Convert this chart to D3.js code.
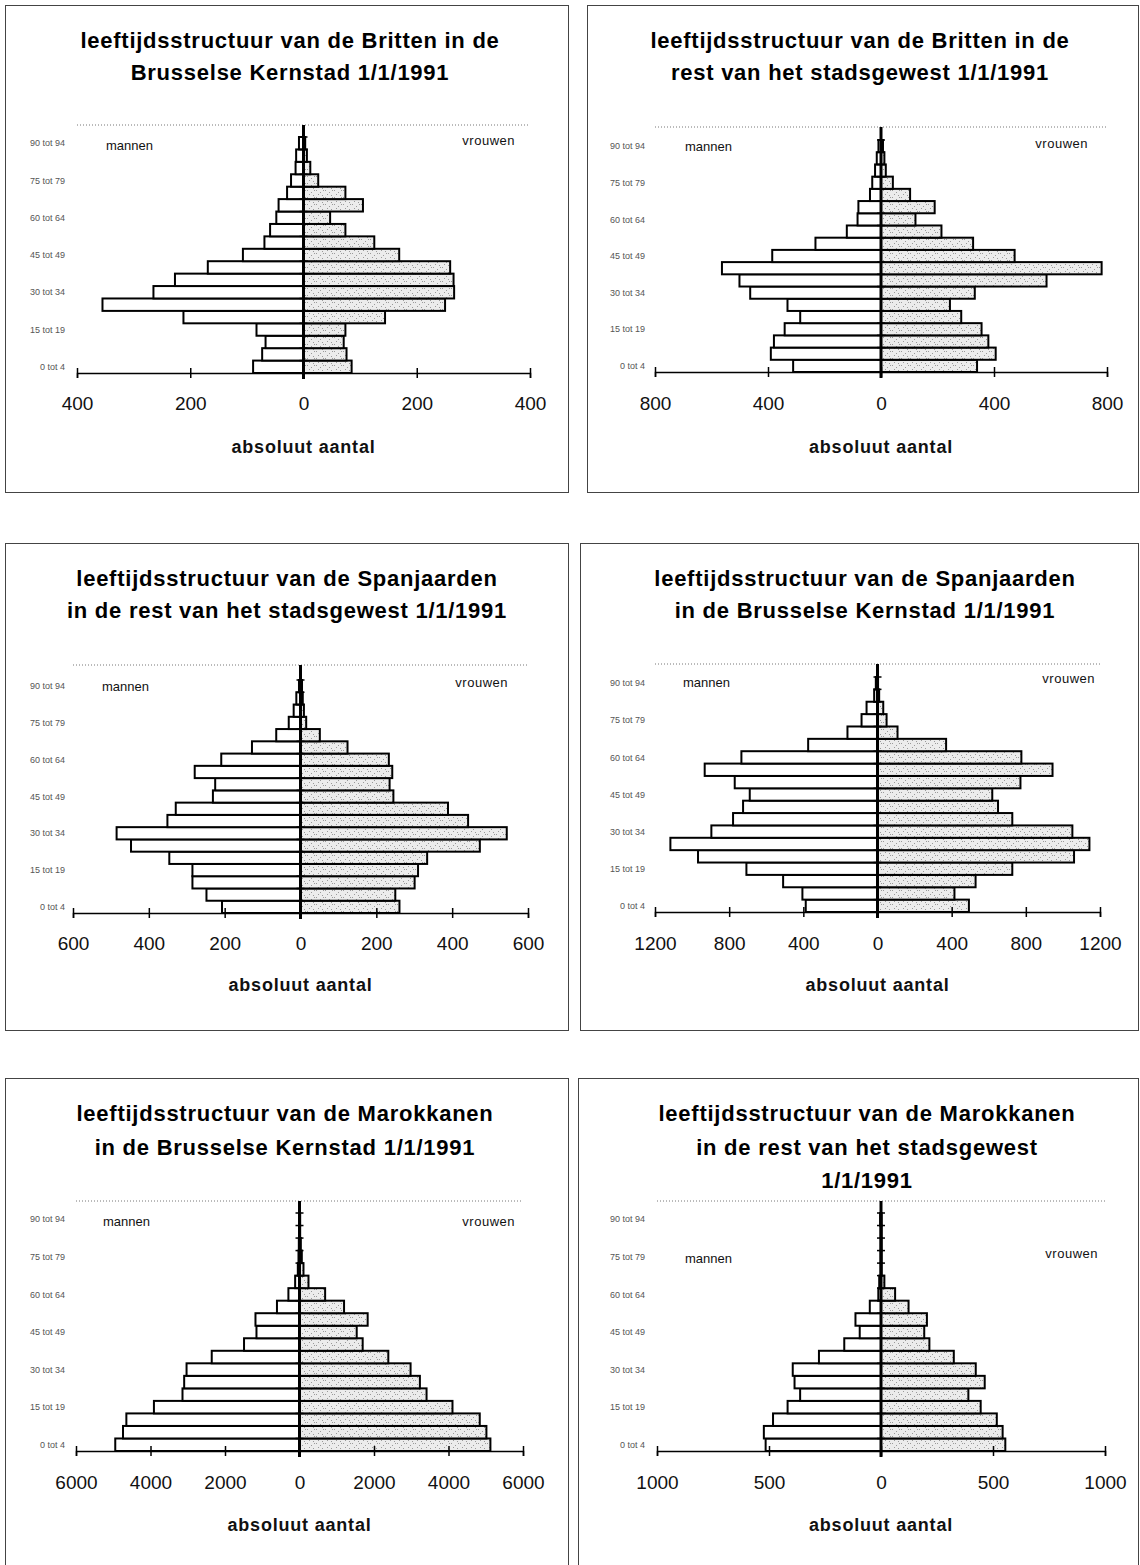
<!DOCTYPE html>
<html><head><meta charset="utf-8">
<script src="https://cdn.jsdelivr.net/npm/d3@7"></script>
<style>body{margin:0;background:#fff}svg{display:block}</style>
</head><body>
<script>
// ---------- DATA ----------
const ageGroups = ["0 tot 4","5 tot 9","10 tot 14","15 tot 19","20 tot 24","25 tot 29","30 tot 34","35 tot 39","40 tot 44","45 tot 49","50 tot 54","55 tot 59","60 tot 64","65 tot 69","70 tot 74","75 tot 79","80 tot 84","85 tot 89","90 tot 94"];
const shownAgeLabels = ["0 tot 4","15 tot 19","30 tot 34","45 tot 49","60 tot 64","75 tot 79","90 tot 94"];

const brittenKernMannen   = [89,73,67,83,212,355,265,227,169,107,69,59,48,44,29,22,14,13,8];
const brittenKernVrouwen  = [85,76,71,74,144,250,266,265,259,169,125,74,47,105,74,26,12,6,3];
const brittenRestMannen   = [311,390,379,341,286,331,463,501,563,385,232,121,83,80,39,31,21,15,9];
const brittenRestVrouwen  = [340,406,380,356,284,244,332,586,781,473,326,214,122,190,103,42,17,12,7];
const spanjRestMannen     = [207,248,285,285,346,447,485,351,329,231,225,279,209,128,64,31,18,11,4];
const spanjRestVrouwen    = [261,250,301,310,334,473,544,442,389,245,235,242,233,124,51,15,9,6,4];
const spanjKernMannen     = [387,405,509,707,968,1117,896,779,725,689,770,932,734,374,162,86,59,18,9];
const spanjKernVrouwen    = [493,415,529,727,1060,1143,1051,727,650,619,771,944,776,370,108,49,31,9,3];
const marokKernMannen     = [4946,4738,4648,3908,3141,3096,3032,2356,1489,1155,1182,605,298,117,45,27,18,9,9];
const marokKernVrouwen    = [5125,5018,4839,4107,3411,3232,2982,2384,1696,1536,1830,1196,688,241,107,62,36,18,18];
const marokRestMannen     = [515,523,482,417,361,386,394,277,164,95,114,50,12,8,2,2,2,2,4];
const marokRestVrouwen    = [555,543,517,445,390,463,423,325,216,193,205,123,63,15,3,3,3,3,3];

const ticksBrittenKern = [-400,-200,0,200,400];
const ticksBrittenRest = [-800,-400,0,400,800];
const ticksSpanjRest   = [-600,-400,-200,0,200,400,600];
const ticksSpanjKern   = [-1200,-800,-400,0,400,800,1200];
const ticksMarokKern   = [-6000,-4000,-2000,0,2000,4000,6000];
const ticksMarokRest   = [-1000,-500,0,500,1000];

const titleBrittenKern = ["leeftijdsstructuur van de Britten in de","Brusselse Kernstad  1/1/1991"];
const titleBrittenRest = ["leeftijdsstructuur van de Britten in de","rest van het stadsgewest  1/1/1991"];
const titleSpanjRest   = ["leeftijdsstructuur van de Spanjaarden","in de rest van het stadsgewest  1/1/1991"];
const titleSpanjKern   = ["leeftijdsstructuur van de Spanjaarden","in de Brusselse Kernstad  1/1/1991"];
const titleMarokKern   = ["leeftijdsstructuur van de Marokkanen","in de Brusselse Kernstad  1/1/1991"];
const titleMarokRest   = ["leeftijdsstructuur van de Marokkanen","in de rest van het stadsgewest","1/1/1991"];

const axisTitle = "absoluut aantal";
const menLabel = "mannen", womenLabel = "vrouwen";

// ---------- LAYOUT ----------
const panels = [
  {title:titleBrittenKern, men:brittenKernMannen, women:brittenKernVrouwen, ticks:ticksBrittenKern,
   L:{fx:5,fy:5,fw:563,fh:487, tcx:290, ty:[40,72], xL:77,xR:530, top:125, barsTop:137, axisY:373, tickY:403, absY:447, ylabX:65, mx:106,my:145, vx:515,vy:140}},
  {title:titleBrittenRest, men:brittenRestMannen, women:brittenRestVrouwen, ticks:ticksBrittenRest,
   L:{fx:587,fy:5,fw:551,fh:487, tcx:860, ty:[40,72], xL:655,xR:1107, top:127, barsTop:140, axisY:372, tickY:403, absY:447, ylabX:645, mx:685,my:146, vx:1088,vy:143}},
  {title:titleSpanjRest, men:spanjRestMannen, women:spanjRestVrouwen, ticks:ticksSpanjRest,
   L:{fx:5,fy:543,fw:563,fh:487, tcx:287, ty:[578,610], xL:73,xR:528, top:665, barsTop:680, axisY:913, tickY:943, absY:985, ylabX:65, mx:102,my:686, vx:508,vy:682}},
  {title:titleSpanjKern, men:spanjKernMannen, women:spanjKernVrouwen, ticks:ticksSpanjKern,
   L:{fx:580,fy:543,fw:558,fh:487, tcx:865, ty:[578,610], xL:655,xR:1100, top:664, barsTop:677, axisY:912, tickY:943, absY:985, ylabX:645, mx:683,my:682, vx:1095,vy:678}},
  {title:titleMarokKern, men:marokKernMannen, women:marokKernVrouwen, ticks:ticksMarokKern,
   L:{fx:5,fy:1078,fw:563,fh:487, tcx:285, ty:[1113,1147], xL:76,xR:523, top:1201, barsTop:1213, axisY:1451, tickY:1482, absY:1525, ylabX:65, mx:103,my:1221, vx:515,vy:1221}},
  {title:titleMarokRest, men:marokRestMannen, women:marokRestVrouwen, ticks:ticksMarokRest,
   L:{fx:578,fy:1078,fw:560,fh:487, tcx:867, ty:[1113,1147,1180], xL:657,xR:1105, top:1201, barsTop:1213, axisY:1451, tickY:1482, absY:1525, ylabX:645, mx:685,my:1258, vx:1098,vy:1253}}
];

const W = 1140, H = 1565;
const svg = d3.select("body").append("svg").attr("width",W).attr("height",H)
  .style("font-family","'Liberation Sans', Arial, sans-serif");

// stipple pattern for women bars
const defs = svg.append("defs");
const pat = defs.append("pattern").attr("id","stip").attr("patternUnits","userSpaceOnUse")
  .attr("width",9).attr("height",7);
pat.append("rect").attr("width",9).attr("height",7).attr("fill","#ececec");
[[1,1],[5,3],[3,5],[7,6],[8,1]].forEach(([a,b]) =>
  pat.append("rect").attr("x",a).attr("y",b).attr("width",1).attr("height",1).attr("fill","#9a9a9a"));

panels.forEach(p => {
  const L = p.L;
  const g = svg.append("g");

  // frame
  g.append("rect").attr("x",L.fx+0.5).attr("y",L.fy+0.5).attr("width",L.fw).attr("height",L.fh)
    .attr("fill","none").attr("stroke","#444").attr("stroke-width",1);

  // title
  p.title.forEach((t,i) => g.append("text").attr("x",L.tcx).attr("y",L.ty[i]).attr("dy","0.35em")
    .attr("text-anchor","middle").attr("font-size",22).attr("font-weight","bold")
    .attr("letter-spacing","0.75px").attr("fill","#000").text(t));

  const max = Math.abs(p.ticks[0]);
  const x = d3.scaleLinear().domain([-max,max]).range([L.xL,L.xR]);
  const y = d3.scaleBand().domain(ageGroups).range([L.axisY,L.barsTop]).padding(0);
  const x0 = x(0);

  // top dotted line
  g.append("line").attr("x1",L.xL).attr("x2",L.xR).attr("y1",L.top).attr("y2",L.top)
    .attr("stroke","#777").attr("stroke-dasharray","1,2");

  // men bars
  g.append("g").selectAll("rect").data(p.men).join("rect")
    .attr("x",(d)=>x(-d)).attr("width",(d)=>x0-x(-d))
    .attr("y",(d,i)=>y(ageGroups[i])).attr("height",y.bandwidth())
    .attr("fill","#fff").attr("stroke","#000").attr("stroke-width",2);

  // women bars
  g.append("g").selectAll("rect").data(p.women).join("rect")
    .attr("x",x0).attr("width",(d)=>x(d)-x0)
    .attr("y",(d,i)=>y(ageGroups[i])).attr("height",y.bandwidth())
    .attr("fill","url(#stip)").attr("stroke","#000").attr("stroke-width",2);

  // horizontal axis
  const ax = g.append("g").attr("transform",`translate(0,${L.axisY})`)
    .call(d3.axisBottom(x).tickValues(p.ticks).tickFormat(d=>Math.abs(d)).tickSizeOuter(0).tickSize(5));
  ax.select(".domain").attr("stroke","#000").attr("stroke-width",1.5);
  ax.selectAll(".tick line").attr("y1",-5).attr("y2",5).attr("stroke","#000").attr("stroke-width",1.5);
  ax.selectAll(".tick text").attr("y",L.tickY-L.axisY).attr("dy","0.35em")
    .attr("font-size",19).attr("fill","#111").attr("font-family","'Liberation Sans', Arial, sans-serif");

  // central vertical axis with band ticks
  g.append("line").attr("x1",x0).attr("x2",x0).attr("y1",L.top).attr("y2",L.axisY+6)
    .attr("stroke","#000").attr("stroke-width",3);
  g.append("g").selectAll("line").data(ageGroups).join("line")
    .attr("x1",x0-4).attr("x2",x0+4).attr("y1",d=>y(d)).attr("y2",d=>y(d))
    .attr("stroke","#000").attr("stroke-width",1.5);

  // age labels
  g.append("g").selectAll("text").data(shownAgeLabels).join("text")
    .attr("x",L.ylabX).attr("y",d=>y(d)+y.bandwidth()/2).attr("dy","0.35em")
    .attr("text-anchor","end").attr("font-size",9).attr("fill","#555").text(d=>d);

  // mannen / vrouwen
  g.append("text").attr("x",L.mx).attr("y",L.my).attr("dy","0.35em").attr("font-size",13)
    .attr("fill","#111").text(menLabel);
  g.append("text").attr("x",L.vx).attr("y",L.vy).attr("dy","0.35em").attr("font-size",13)
    .attr("text-anchor","end").attr("letter-spacing","0.5px").attr("fill","#111").text(womenLabel);

  // axis title
  g.append("text").attr("x",x0).attr("y",L.absY).attr("dy","0.35em").attr("text-anchor","middle")
    .attr("font-size",18).attr("font-weight","bold").attr("letter-spacing","0.8px")
    .attr("fill","#111").text(axisTitle);
});
</script>
</body></html>
